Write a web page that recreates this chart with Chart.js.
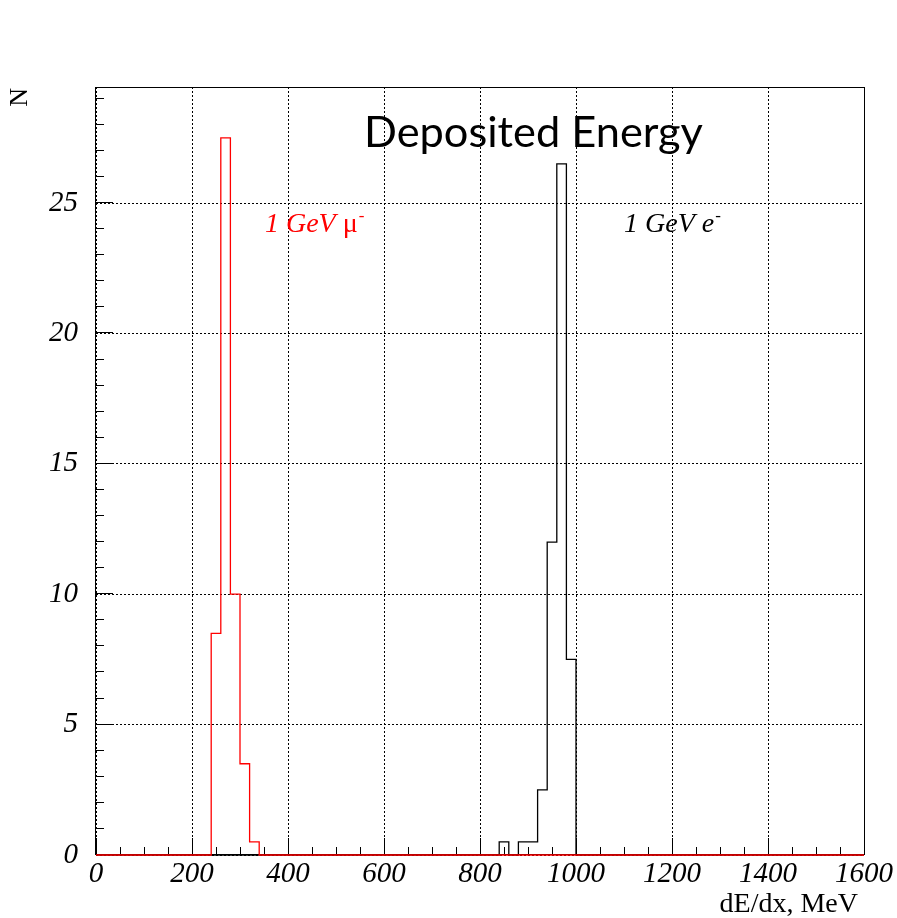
<!DOCTYPE html>
<html>
<head>
<meta charset="utf-8">
<script src="https://cdn.jsdelivr.net/npm/chart.js@4/dist/chart.umd.min.js"></script>
<style>
  html, body { margin: 0; padding: 0; background: #ffffff; }
  canvas { display: block; }
</style>
</head>
<body>
<canvas id="chart" width="897" height="918"></canvas>
<script>
// Histogram binning of dE/dx in MeV
const binWidth = 20;
const xRange = [0, 1600];

// Non-empty bins: lower bin edge and bin content
const muonBinStarts = [240, 260, 280, 300, 320];
const muonCounts = [8.5, 27.5, 10, 3.5, 0.5];
const electronBinStarts = [840, 880, 900, 920, 940, 960, 980];
const electronCounts = [0.5, 0.5, 0.5, 2.5, 12, 26.5, 7.5];

// Axis ticks
const xTickValues = [0, 200, 400, 600, 800, 1000, 1200, 1400, 1600];
const yTickValues = [0, 5, 10, 15, 20, 25];
const yMax = 29.45;

// Texts
const titleText = 'Deposited Energy';
const labelPrefix = '1 GeV ';
const muonSymbol = 'μ';
const electronSymbol = 'e';
const xTitle = 'dE/dx, MeV';
const yTitle = 'N';

const SERIF = "'Liberation Serif', 'Times New Roman', serif";

// Expand the sparse bin list into a full step outline over the axis range
function histogramPoints(starts, counts) {
  const nBins = Math.round((xRange[1] - xRange[0]) / binWidth);
  const content = new Array(nBins).fill(0);
  starts.forEach((s, i) => { content[Math.round((s - xRange[0]) / binWidth)] = counts[i]; });
  const pts = content.map((c, i) => ({ x: xRange[0] + i * binWidth, y: c }));
  pts.push({ x: xRange[1], y: content[nBins - 1] });
  return pts;
}

// Frame with ROOT-like inner ticks (major + minor)
const frameTicks = {
  id: 'frameTicks',
  beforeDatasetsDraw(chart) {
    const { ctx, chartArea: a, scales: { x, y } } = chart;
    ctx.save();
    ctx.strokeStyle = '#000';
    ctx.lineWidth = 1;
    ctx.beginPath();
    for (let v = xRange[0]; v <= xRange[1]; v += 50) {
      const px = Math.round(x.getPixelForValue(v)) + 0.5;
      const len = v % 200 === 0 ? 17 : 8;
      ctx.moveTo(px, a.bottom);
      ctx.lineTo(px, a.bottom - len);
    }
    for (let v = 0; v <= Math.floor(yMax); v += 1) {
      const py = Math.round(y.getPixelForValue(v)) - 0.5;
      const len = v % 5 === 0 ? 17 : 8;
      ctx.moveTo(a.left, py);
      ctx.lineTo(a.left + len, py);
    }
    ctx.stroke();
    ctx.strokeRect(Math.round(a.left) - 0.5, Math.round(a.top) + 0.5,
                   Math.round(a.right - a.left) + 1, Math.round(a.bottom - a.top) - 1);
    ctx.restore();
  }
};

// Title, particle labels and axis titles
const textLayer = {
  id: 'textLayer',
  afterDatasetsDraw(chart) {
    const { ctx, chartArea: a, scales: { x, y } } = chart;
    ctx.save();

    // Title inside the frame
    ctx.fillStyle = '#000';
    ctx.textBaseline = 'alphabetic';
    ctx.textAlign = 'left';
    ctx.font = "100px Lato, 'Open Sans', sans-serif";
    const w100 = ctx.measureText(titleText).width;
    const titleSize = 100 * 339 / w100;
    ctx.font = titleSize.toFixed(2) + "px Lato, 'Open Sans', sans-serif";
    ctx.fillText(titleText, a.left + 268, a.top + 60);

    // Particle labels: italic prefix, symbol, superscript minus
    function particle(symbol, symbolStyle, xv, yv, color) {
      let px = x.getPixelForValue(xv);
      const py = y.getPixelForValue(yv);
      ctx.fillStyle = color;
      ctx.font = 'italic 28px ' + SERIF;
      ctx.fillText(labelPrefix, px, py);
      px += ctx.measureText(labelPrefix).width;
      ctx.font = symbolStyle + ' 28px ' + SERIF;
      ctx.fillText(symbol, px, py);
      px += ctx.measureText(symbol).width;
      ctx.font = '17px ' + SERIF;
      ctx.fillText('-', px + 1, py - 11);
    }
    particle(muonSymbol, 'normal', 352, 23.9, '#ff0000');
    particle(electronSymbol, 'italic', 1100, 23.9, '#000000');

    // Axis titles
    ctx.fillStyle = '#000';
    ctx.font = '28px ' + SERIF;
    ctx.textAlign = 'right';
    ctx.fillText(xTitle, a.right - 6, 912);

    ctx.translate(27, a.top + 1);
    ctx.rotate(-Math.PI / 2);
    ctx.textAlign = 'right';
    ctx.font = '26px ' + SERIF;
    ctx.fillText(yTitle, 0, 0);
    ctx.restore();
  }
};

function build() {
  new Chart(document.getElementById('chart'), {
    type: 'line',
    data: {
      datasets: [
        {
          label: labelPrefix + muonSymbol,
          data: histogramPoints(muonBinStarts, muonCounts),
          borderColor: '#ff0000',
          borderWidth: 1.3,
          stepped: true,
          pointRadius: 0,
          fill: false,
          clip: 4,
          order: 0
        },
        {
          label: labelPrefix + electronSymbol,
          data: histogramPoints(electronBinStarts, electronCounts),
          borderColor: '#000000',
          borderWidth: 1.3,
          stepped: true,
          pointRadius: 0,
          fill: false,
          clip: 4,
          order: 1
        }
      ]
    },
    options: {
      responsive: false,
      animation: false,
      events: [],
      layout: { padding: { top: 87, right: 33, left: 0, bottom: 0 } },
      plugins: {
        legend: { display: false },
        tooltip: { enabled: false },
        title: { display: false }
      },
      scales: {
        x: {
          type: 'linear',
          min: xRange[0],
          max: xRange[1],
          afterBuildTicks: s => { s.ticks = xTickValues.map(v => ({ value: v })); },
          afterFit: s => { s.height = 63; },
          ticks: {
            color: '#000',
            padding: 2,
            maxRotation: 0,
            autoSkip: false,
            font: { family: SERIF, size: 29, style: 'italic' },
            callback: v => String(v)
          },
          grid: { color: '#000', lineWidth: 1, drawTicks: false },
          border: { display: false, dash: [2, 2] }
        },
        y: {
          type: 'linear',
          min: 0,
          max: yMax,
          afterBuildTicks: s => { s.ticks = yTickValues.map(v => ({ value: v })); },
          afterFit: s => { s.width = 96; },
          ticks: {
            color: '#000',
            padding: 18,
            autoSkip: false,
            font: { family: SERIF, size: 29, style: 'italic' },
            callback: v => String(v)
          },
          grid: { color: '#000', lineWidth: 1, drawTicks: false },
          border: { display: false, dash: [2, 2] }
        }
      }
    },
    plugins: [frameTicks, textLayer]
  });
}

Promise.all([
  document.fonts.load("italic 28px 'Liberation Serif'"),
  document.fonts.load("28px 'Liberation Serif'"),
  document.fonts.load('40px Lato')
]).catch(() => {}).then(build);
</script>
</body>
</html>
